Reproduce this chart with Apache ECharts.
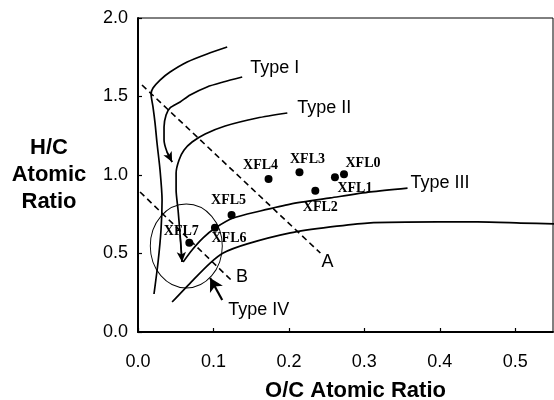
<!DOCTYPE html>
<html><head><meta charset="utf-8">
<script src="https://cdn.jsdelivr.net/npm/echarts@6/dist/echarts.min.js"></script>
<style>html,body{margin:0;padding:0;background:#fff}#c{width:554px;height:400px}</style>
</head><body><div id="c"></div><script>
// ---- data (O/C, H/C) ----
const sampleNames = ['XFL0','XFL1','XFL2','XFL3','XFL4','XFL5','XFL6','XFL7'];
const sampleOC = [0.273, 0.261, 0.235, 0.214, 0.173, 0.124, 0.102, 0.068];
const sampleHC = [1.004, 0.985, 0.900, 1.017, 0.975, 0.745, 0.664, 0.569];

const curveUpper = [[0.1182,1.815],[0.0916,1.771],[0.0651,1.720],[0.0425,1.656],[0.0292,1.605],[0.0199,1.554],[0.0173,1.516],[0.0199,1.433],[0.0226,1.331],[0.0252,1.204],[0.0292,1.032],[0.0319,0.841],[0.0305,0.650],[0.0266,0.446],[0.0212,0.242]];
const curveTypeI = [[0.1381,1.624],[0.1129,1.592],[0.0916,1.561],[0.0691,1.510],[0.0558,1.465],[0.0425,1.427],[0.0372,1.382],[0.0345,1.306],[0.0345,1.223],[0.0385,1.146],[0.0452,1.083]];
const curveTypeII = [[0.1979,1.395],[0.1580,1.363],[0.1155,1.312],[0.0890,1.261],[0.0717,1.210],[0.0611,1.159],[0.0544,1.096],[0.0505,1.013],[0.0505,0.904],[0.0531,0.777],[0.0558,0.618],[0.0584,0.446]];
const curveTypeIII = [[0.0598,0.446],[0.0717,0.522],[0.0863,0.599],[0.1023,0.662],[0.1262,0.726],[0.1620,0.771],[0.2019,0.815],[0.2550,0.854],[0.3081,0.892],[0.3572,0.917]];
const curveTypeIV = [[0.0452,0.191],[0.0730,0.331],[0.0956,0.439],[0.1129,0.503],[0.1448,0.561],[0.2019,0.631],[0.2550,0.669],[0.3041,0.694],[0.3971,0.701],[0.4502,0.701],[0.5073,0.694],[0.5525,0.688]];
const lineA = [[0.0053,1.573],[0.2417,0.503]];
const lineB = [[0.0027,0.892],[0.1262,0.318]];
const typeIVArrow = [[0.1116,0.204],[0.0956,0.344]];
const circleCenter = [0.064, 0.548];

const annotationText = ['Type I','Type II','Type III','Type IV','A','B'];
const annotationOC = [0.1487, 0.211, 0.361, 0.1195, 0.251, 0.138];
const annotationHC = [1.682, 1.427, 0.949, 0.140, 0.446, 0.350];

const xTickLabels = ['0.0','0.1','0.2','0.3','0.4','0.5'];
const yTickLabels = ['0.0','0.5','1.0','1.5','2.0'];

// ---- styling (kept separate from data) ----
const labelOffsets = {XFL0:[19,-11],XFL1:[20,11],XFL2:[5,17],XFL3:[8,-13],XFL4:[-8,-14],XFL5:[-3,-15],XFL6:[14,11],XFL7:[-8,-11]};
const annotationAlign = {'Type I':'left','Type II':'left','Type III':'left','Type IV':'left','A':'center','B':'center'};
const sans = '"Liberation Sans", Arial, sans-serif';
const serif = '"Liberation Serif", "Times New Roman", serif';

function curve(name, pts, arrow) {
  const s = {type:'line', name, data:pts, smooth:0.25, symbol:'none', showSymbol:false, silent:true,
    lineStyle:{color:'#000', width:1.7}, z:3};
  if (arrow) {
    const n = pts.length;
    s.markLine = {silent:true, symbol:['none','arrow'], symbolSize:[7,10], animation:false,
      lineStyle:{color:'#000', width:1.4, type:'solid'}, label:{show:false},
      data:[[{coord:pts[n-2]},{coord:pts[n-1]}]]};
  }
  return s;
}
function dashed(name, pts) {
  return {type:'line', name, data:pts, symbol:'none', showSymbol:false, silent:true,
    lineStyle:{color:'#000', width:1.6, type:[6,4]}, z:3};
}

const chart = echarts.init(document.getElementById('c'), null, {renderer:'canvas'});
chart.setOption({
  animation:false,
  backgroundColor:'#fff',
  grid:{left:138, right:1, top:18, bottom:68, containLabel:false, outerBoundsMode:'none',
    show:true, borderColor:'#000', borderWidth:1, backgroundColor:'transparent'},
  xAxis:{type:'value', min:0, max:0.55, interval:0.1,
    axisLine:{show:true, onZero:false, lineStyle:{color:'#000', width:2}},
    axisTick:{show:true, inside:true, length:4, lineStyle:{color:'#000', width:1.2}},
    splitLine:{show:false},
    axisLabel:{color:'#000', fontFamily:sans, fontSize:18, margin:21, showMaxLabel:false,
      formatter:v => { const i = Math.round(v*10); return Math.abs(v*10-i) < 1e-6 && xTickLabels[i] ? xTickLabels[i] : ''; }},
    name:'O/C Atomic Ratio', nameLocation:'middle', nameGap:48,
    nameTextStyle:{color:'#000', fontFamily:sans, fontSize:22, fontWeight:'bold', padding:[0,0,0,20]}
  },
  yAxis:{type:'value', min:0, max:2, interval:0.5,
    axisLine:{show:true, onZero:false, lineStyle:{color:'#000', width:2}},
    axisTick:{show:true, inside:true, length:4, lineStyle:{color:'#000', width:1.2}},
    splitLine:{show:false},
    axisLabel:{color:'#000', fontFamily:sans, fontSize:18, margin:10,
      formatter:v => { const i = Math.round(v*2); return yTickLabels[i] || ''; }},
    name:'H/C\nAtomic\nRatio', nameLocation:'middle', nameGap:89, nameRotate:0,
    nameTextStyle:{color:'#000', fontFamily:sans, fontSize:22, fontWeight:'bold', align:'center', verticalAlign:'middle', lineHeight:27, padding:[10,0,0,0]}
  },
  series:[
    {type:'scatter', name:'circle', data:[circleCenter], symbol:'circle', symbolSize:[72,84], silent:true,
      itemStyle:{color:'rgba(0,0,0,0)', borderColor:'#000', borderWidth:1, opacity:1}, z:2},
    curve('upper', curveUpper, false),
    curve('Type I', curveTypeI, true),
    curve('Type II', curveTypeII, true),
    curve('Type III', curveTypeIII, false),
    {type:'line', name:'Type IV', data:curveTypeIV, smooth:0.25, symbol:'none', showSymbol:false, silent:true,
      lineStyle:{color:'#000', width:1.7}, z:3,
      markLine:{silent:true, symbol:['none','arrow'], symbolSize:[11,13], animation:false,
        lineStyle:{color:'#000', width:2.2, type:'solid'}, label:{show:false},
        data:[[{coord:typeIVArrow[0]},{coord:typeIVArrow[1]}]]}},
    dashed('A', lineA),
    dashed('B', lineB),
    {type:'scatter', name:'samples', symbol:'circle', symbolSize:8, z:5, silent:true,
      itemStyle:{color:'#000', opacity:1},
      data: sampleNames.map((n,i) => ({name:n, value:[sampleOC[i], sampleHC[i]],
        label:{show:true, position:'inside', offset:labelOffsets[n], formatter:'{b}',
          color:'#000', fontFamily:serif, fontSize:14, fontWeight:'bold'}}))},
    {type:'scatter', name:'annotations', symbolSize:0, z:6, silent:true,
      itemStyle:{opacity:1},
      data: annotationText.map((t,i) => ({name:t, value:[annotationOC[i], annotationHC[i]],
        label:{show:true, position:'inside', formatter:'{b}', align:annotationAlign[t], verticalAlign:'middle',
          color:'#000', fontFamily:sans, fontSize:18}}))}
  ]
});
</script></body></html>
